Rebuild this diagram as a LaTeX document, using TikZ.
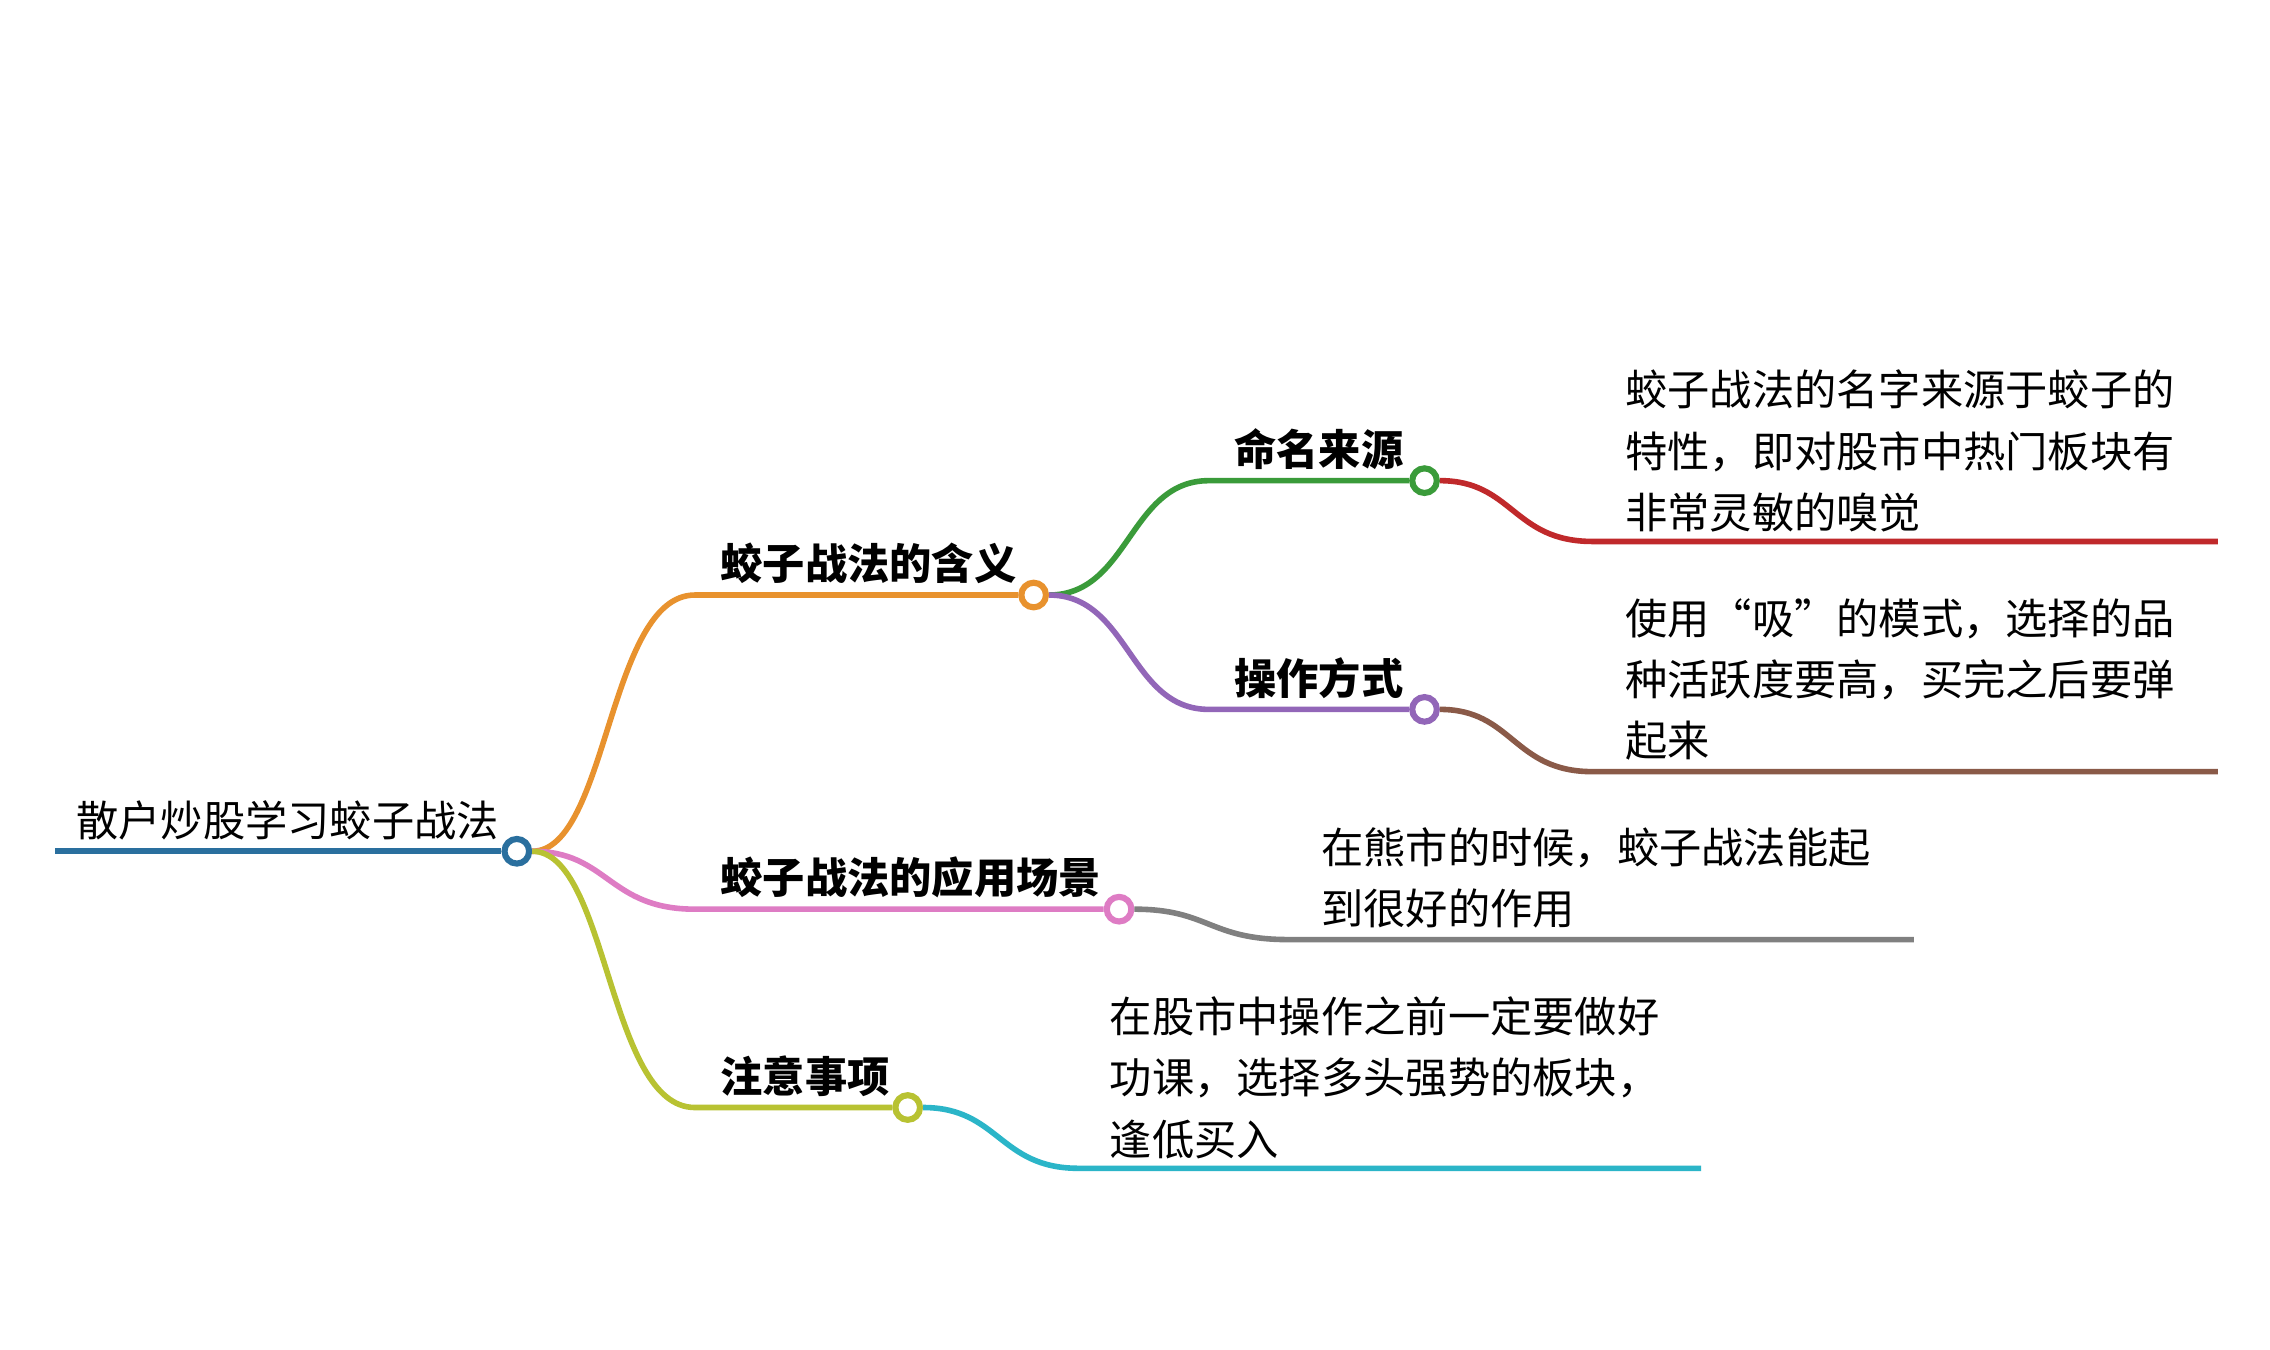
\documentclass[tikz,border=0pt]{standalone}
\usepackage{fontspec}
\setmainfont{Noto Sans CJK SC}
\tikzset{
  knob/.style={circle,draw,line width=1.2pt,fill=white,minimum size=0.17cm,inner sep=0pt},
  edge/.style={line width=1.1pt},
  topic/.style={anchor=south west,inner sep=0pt,font=\fontsize{8.3pt}{10pt}\selectfont\bfseries},
  leaf/.style={anchor=north west,inner sep=0pt,align=left,font=\fontsize{8.3pt}{12pt}\selectfont},
}
\definecolor{cRoot}{HTML}{2A6F9E}
\definecolor{cOra}{HTML}{E8922E}
\definecolor{cGrn}{HTML}{3A9B3A}
\definecolor{cRed}{HTML}{C0292B}
\definecolor{cPur}{HTML}{9266B8}
\definecolor{cBrn}{HTML}{8A5A48}
\definecolor{cPnk}{HTML}{DE7CC4}
\definecolor{cGry}{HTML}{808080}
\definecolor{cYel}{HTML}{B8C232}
\definecolor{cCya}{HTML}{2BB5C8}
\begin{document}
\begin{tikzpicture}[x=0.01cm,y=-0.01cm]
\useasboundingbox[fill=white] (0,0) rectangle (1568,932);
% root
\coordinate (r0) at (38,588);
\node[knob,draw=cRoot] (root) at (357,588) {};
\draw[edge,cRoot] (r0) -- (root);
\node[anchor=south west,inner sep=0pt,font=\fontsize{8.3pt}{10pt}\selectfont] at (52,581) {散户炒股学习蛟子战法};
% branch 1
\node[knob,draw=cOra] (b1) at (714,411) {};
\draw[edge,cOra] (root.east) .. controls (420,588) and (420,411) .. (480,411) -- (b1.west);
\node[topic] at (497,404) {蛟子战法的含义};
% sub 1
\node[knob,draw=cGrn] (s1) at (984,332) {};
\draw[edge,cGrn] (b1.east) .. controls (780,411) and (780,332) .. (835,332) -- (s1.west);
\node[topic] at (852,325) {命名来源};
\coordinate (e1) at (1532,374);
\draw[edge,cRed] (s1.east) .. controls (1045,332) and (1045,374) .. (1100,374) -- (e1);
\node[leaf] at (1122,255) {蛟子战法的名字来源于蛟子的\\特性，即对股市中热门板块有\\非常灵敏的嗅觉};
% sub 2
\node[knob,draw=cPur] (s2) at (984,490) {};
\draw[edge,cPur] (b1.east) .. controls (780,411) and (780,490) .. (835,490) -- (s2.west);
\node[topic] at (852,483) {操作方式};
\coordinate (e2) at (1532,533);
\draw[edge,cBrn] (s2.east) .. controls (1045,490) and (1045,533) .. (1100,533) -- (e2);
\node[leaf] at (1122,413) {使用“吸”的模式，选择的品\\种活跃度要高，买完之后要弹\\起来};
% branch 2
\node[knob,draw=cPnk] (b2) at (773,628) {};
\draw[edge,cPnk] (root.east) .. controls (420,588) and (420,628) .. (480,628) -- (b2.west);
\node[topic] at (497,621) {蛟子战法的应用场景};
\coordinate (e3) at (1322,649);
\draw[edge,cGry] (b2.east) .. controls (835,628) and (835,649) .. (890,649) -- (e3);
\node[leaf] at (912,571) {在熊市的时候，蛟子战法能起\\到很好的作用};
% branch 3
\node[knob,draw=cYel] (b3) at (627,765) {};
\draw[edge,cYel] (root.east) .. controls (420,588) and (420,765) .. (480,765) -- (b3.west);
\node[topic] at (497,758) {注意事项};
\coordinate (e4) at (1175,807);
\draw[edge,cCya] (b3.east) .. controls (690,765) and (690,807) .. (745,807) -- (e4);
\node[leaf] at (766,688) {在股市中操作之前一定要做好\\功课，选择多头强势的板块，\\逢低买入};
\end{tikzpicture}
\end{document}
